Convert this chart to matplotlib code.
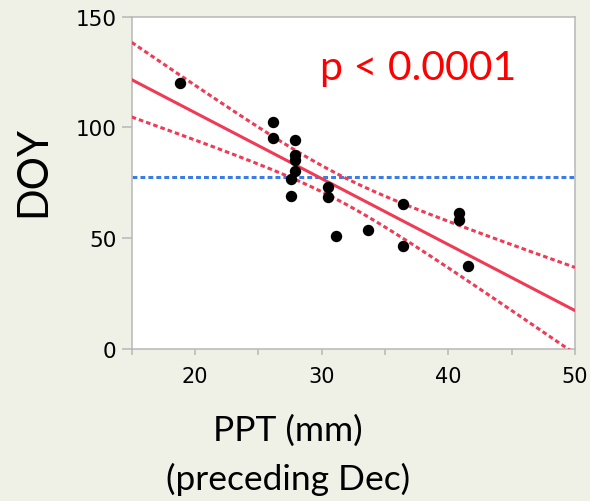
import numpy as np
import matplotlib
matplotlib.use("Agg")
import matplotlib.pyplot as plt

# Precipitation of the preceding December (mm) vs. day of year
ppt = [18.8, 26.15, 26.15, 27.87, 27.87, 27.87, 27.87, 27.57, 27.57,
       30.52, 30.52, 31.15, 33.65, 36.44, 36.44, 40.81, 40.81, 41.52]
doy = [119.8, 102.2, 95.4, 94.4, 87.6, 85.3, 80.3, 76.6, 68.8,
       73.2, 68.5, 51.1, 53.5, 65.5, 46.4, 61.3, 58.0, 37.3]
reference_doy = 77.4
p_label = "p < 0.0001"

x_ticks = [20, 30, 40, 50]
x_minor = [15, 25, 35, 45]
y_ticks = [0, 50, 100, 150]

bg = "#EFF0E6"
red = "#EF3B55"
blue = "#3A7DE6"
grey = "#B8B8B8"

x = np.asarray(ppt)
y = np.asarray(doy)
n = len(x)
slope, intercept = np.polyfit(x, y, 1)
resid = y - (slope * x + intercept)
s = np.sqrt(np.sum(resid ** 2) / (n - 2))
t975 = 2.1199  # Student t, 16 degrees of freedom
xs = np.linspace(15, 50, 200)
fit = slope * xs + intercept
se = s * np.sqrt(1 / n + (xs - x.mean()) ** 2 / np.sum((x - x.mean()) ** 2))

fig = plt.figure(figsize=(5.9, 5.02), dpi=100, facecolor=bg)
ax = fig.add_axes([0.2232, 0.3028, 0.7514, 0.6623])
ax.set_facecolor("white")

ax.axhline(reference_doy, color=blue, lw=2.2, dashes=(1.6, 1.0), zorder=2)
ax.plot(xs, fit, color=red, lw=2.2, zorder=3)
ax.plot(xs, fit + t975 * se, color=red, lw=2.2, dashes=(1.5, 1.0), zorder=3)
ax.plot(xs, fit - t975 * se, color=red, lw=2.2, dashes=(1.5, 1.0), zorder=3)
ax.plot(x, y, "o", color="black", ms=7.2, zorder=4)

ax.set_xlim(15, 50)
ax.set_ylim(0, 150)
ax.set_xticks(x_ticks)
ax.set_xticks(x_minor, minor=True)
ax.set_yticks(y_ticks)
ax.tick_params(axis="x", which="both", length=4.5, width=1.1, color=grey,
               labelsize=15, pad=8)
ax.tick_params(axis="y", length=7, width=1.1, color=grey, labelsize=15.5, pad=4)
for sp in ax.spines.values():
    sp.set_color(grey)
    sp.set_linewidth(1.1)

ax.text(0.425, 0.812, p_label, transform=ax.transAxes, color="#FF0000",
        fontsize=29.5, family="Lato", va="baseline")

fig.text(288 / 590, 1 - 431 / 502, "PPT (mm)", ha="center", va="center",
         fontsize=25.5, family="Lato")
fig.text(288 / 590, 1 - 479 / 502, "(preceding Dec)", ha="center",
         va="center", fontsize=25.5, family="Lato")
fig.text(33 / 590, 1 - 172 / 502, "DOY", ha="center", va="center",
         rotation=90, fontsize=30, family="Lato")

fig.savefig("out.png", dpi=100, facecolor=bg)
